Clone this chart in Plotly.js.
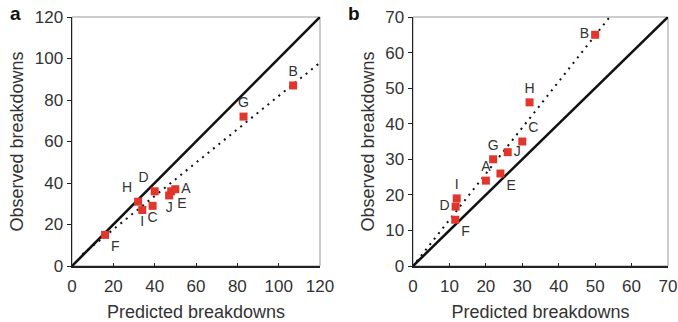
<!DOCTYPE html>
<html>
<head>
<meta charset="utf-8">
<script src="https://cdn.plot.ly/plotly-3.0.1.min.js"></script>
<style>html,body{margin:0;padding:0;background:#fff;}#chart{width:678px;height:322px;}</style>
</head>
<body>
<div id="chart"></div>
<script>
// Panel a data
const labelsA = ["A","B","C","D","E","F","G","H","I","J"];
const predA   = [50, 107, 39, 40, 48, 16, 83, 32, 34, 47];
const obsA    = [37, 87, 29, 36, 36, 15, 72, 31, 27, 34];
const posA    = ["middle right","top center","bottom center","top left","bottom right","bottom right","top center","top left","bottom center","bottom center"];
const fitAx   = [5, 120];
const fitAy   = [5.6, 98];
const idA     = [0, 120];

// Panel b data
const labelsB = ["A","B","C","D","E","F","G","H","I","J"];
const predB   = [20, 50, 30, 11.7, 24, 11.6, 22, 32, 12, 26];
const obsB    = [24, 65, 35, 16.7, 26, 13, 30, 46, 19, 32];
const posB    = ["top center","middle left","top right","middle left","bottom right","bottom right","top center","top center","top center","middle right"];
const fitBx   = [1, 54];
const fitBy   = [1.3, 70];
const idB     = [0, 70];

const ticksA = [0,20,40,60,80,100,120];
const ticksB = [0,10,20,30,40,50,60,70];

const FONT = "Liberation Sans, Arial, Helvetica, sans-serif";
const red = "#e0362b";
const dotted = {color: "#111", width: 2, dash: "2px,5px"};

const traces = [
  {x: idA, y: idA, mode: "lines", line: {color: "#111", width: 2.6}, xaxis: "x", yaxis: "y"},
  {x: fitAx, y: fitAy, mode: "lines", line: dotted, xaxis: "x", yaxis: "y"},
  {x: predA, y: obsA, text: labelsA, textposition: posA, mode: "markers+text", cliponaxis: false,
   marker: {symbol: "square", size: 8, color: red}, textfont: {family: FONT, size: 14, color: "#333"}, xaxis: "x", yaxis: "y"},
  {x: idB, y: idB, mode: "lines", line: {color: "#111", width: 2.6}, xaxis: "x2", yaxis: "y2"},
  {x: fitBx, y: fitBy, mode: "lines", line: dotted, xaxis: "x2", yaxis: "y2"},
  {x: predB, y: obsB, text: labelsB, textposition: posB, mode: "markers+text", cliponaxis: false,
   marker: {symbol: "square", size: 8, color: red}, textfont: {family: FONT, size: 14, color: "#333"}, xaxis: "x2", yaxis: "y2"}
];

function xax(range, ticks, domain, anchor) {
  return {domain: domain, range: range, anchor: anchor, tickvals: ticks, ticktext: ticks.map(String),
    showgrid: false, zeroline: false, showline: true, linecolor: "#222", linewidth: 1.5,
    ticks: "inside", ticklen: 3, tickcolor: "#222", ticklabelstandoff: 4,
    tickfont: {family: FONT, size: 17, color: "#333"},
    title: {text: "Predicted breakdowns", font: {family: FONT, size: 18, color: "#333"}, standoff: 14}, automargin: false};
}
function yax(range, ticks, anchor) {
  return {domain: [0, 1], range: range, anchor: anchor, tickvals: ticks, ticktext: ticks.map(String),
    showgrid: false, zeroline: false, showline: true, linecolor: "#222", linewidth: 1.5,
    ticks: "outside", ticklen: 4, tickcolor: "#222", tickfont: {family: FONT, size: 17, color: "#333"},
    title: {text: "Observed breakdowns", font: {family: FONT, size: 18, color: "#333"}, standoff: 6}, automargin: false};
}

const layout = {
  width: 678, height: 322,
  margin: {l: 0, r: 0, t: 17, b: 56},
  paper_bgcolor: "#fff", plot_bgcolor: "#fff",
  showlegend: false,
  xaxis: xax([0, 120], ticksA, [72/678, 320/678], "y"),
  yaxis: yax([0, 120], ticksA, "x"),
  xaxis2: xax([0, 70], ticksB, [413/678, 668/678], "y2"),
  yaxis2: yax([0, 70], ticksB, "x2"),
  shapes: [
    {type: "rect", xref: "x domain", yref: "y domain", x0: 0, x1: 1, y0: 0, y1: 1, line: {color: "#999", width: 1}, layer: "below"},
    {type: "rect", xref: "x2 domain", yref: "y2 domain", x0: 0, x1: 1, y0: 0, y1: 1, line: {color: "#999", width: 1}, layer: "below"}
  ],
  annotations: [
    {text: "<b>a</b>", xref: "paper", yref: "paper", x: 8/678, y: 1 + 4/249, xanchor: "left", yanchor: "middle", showarrow: false, font: {family: FONT, size: 19, color: "#111"}},
    {text: "<b>b</b>", xref: "paper", yref: "paper", x: 346/678, y: 1 + 4/249, xanchor: "left", yanchor: "middle", showarrow: false, font: {family: FONT, size: 19, color: "#111"}}
  ]
};

Plotly.newPlot("chart", traces, layout, {staticPlot: true, displayModeBar: false});
</script>
</body>
</html>
